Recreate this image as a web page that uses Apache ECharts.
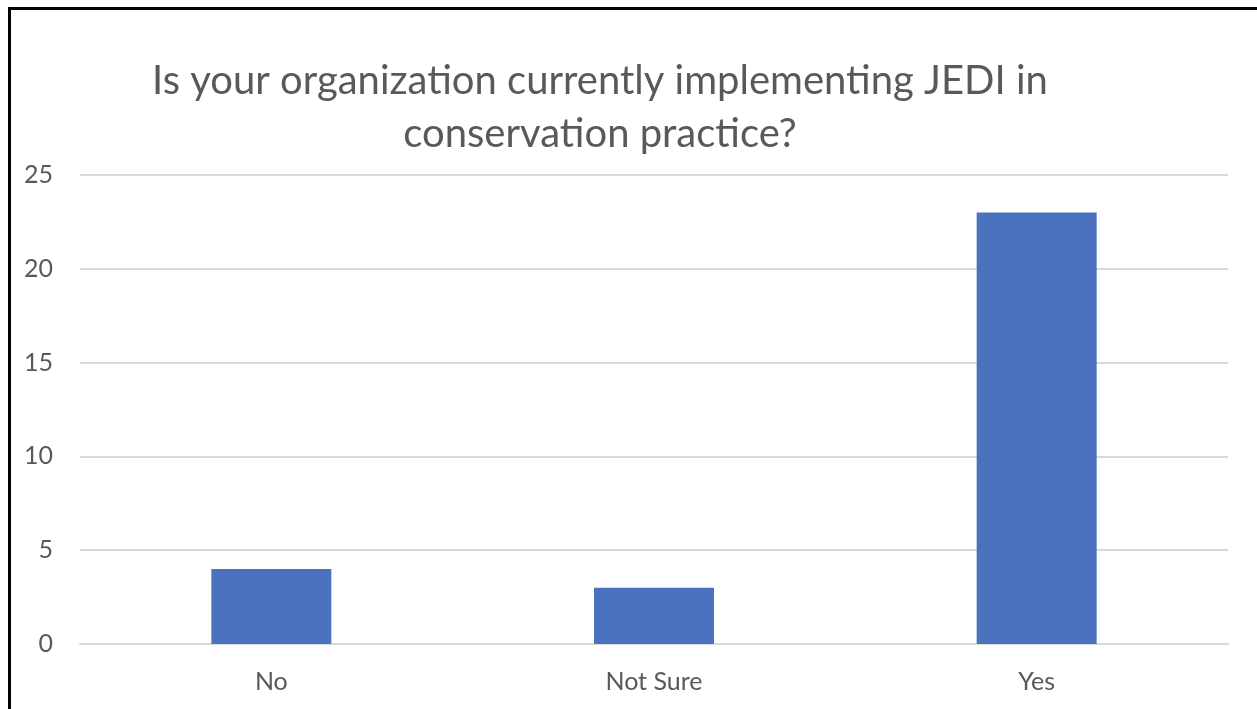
<!DOCTYPE html>
<html>
<head>
<meta charset="utf-8">
<script src="https://cdn.jsdelivr.net/npm/echarts@6/dist/echarts.min.js"></script>
<style>
  html, body { margin: 0; padding: 0; background: #fff; overflow: hidden; }
  #chart { position: absolute; left: 0; top: 0; width: 1257px; height: 709px; }
</style>
</head>
<body>
<div id="chart"></div>
<script>
const titleLines = ['Is your organization currently implementing JEDI in', 'conservation practice?'];
const categories = ['No', 'Not Sure', 'Yes'];
const responses = [4, 3, 23];
const yTicks = { min: 0, max: 25, interval: 5 };

const textColor = '#595959';
const fontFamily = 'Lato, "Open Sans", sans-serif';

const chart = echarts.init(document.getElementById('chart'));
chart.setOption({
  animation: false,
  // frame edge along the left and top of the chart area
  graphic: [{
    type: 'polyline',
    silent: true,
    shape: { points: [[9.5, 720], [9.5, 8.5], [1270, 8.5]] },
    style: { fill: null, stroke: '#000', lineWidth: 3 }
  }],
  title: {
    text: titleLines.join('\n'),
    left: 595,
    top: 50,
    textAlign: 'center',
    textStyle: { color: textColor, fontFamily, fontSize: 40, fontWeight: 'normal', lineHeight: 53 }
  },
  grid: { left: 80, right: 29, top: 175, bottom: 65, containLabel: false },
  xAxis: {
    type: 'category',
    data: categories,
    axisLine: { show: true, lineStyle: { color: '#d9d9d9', width: 2 } },
    axisTick: { show: false },
    axisLabel: { color: textColor, fontFamily, fontSize: 25, margin: 25 }
  },
  yAxis: {
    type: 'value',
    min: yTicks.min, max: yTicks.max, interval: yTicks.interval,
    axisLine: { show: false },
    axisTick: { show: false },
    axisLabel: { color: textColor, fontFamily, fontSize: 25, margin: 27 },
    splitLine: { lineStyle: { color: '#d9d9d9', width: 2 } }
  },
  series: [{
    type: 'bar',
    data: responses,
    barWidth: 120,
    itemStyle: { color: '#4a72bf' }
  }]
});
</script>
</body>
</html>
